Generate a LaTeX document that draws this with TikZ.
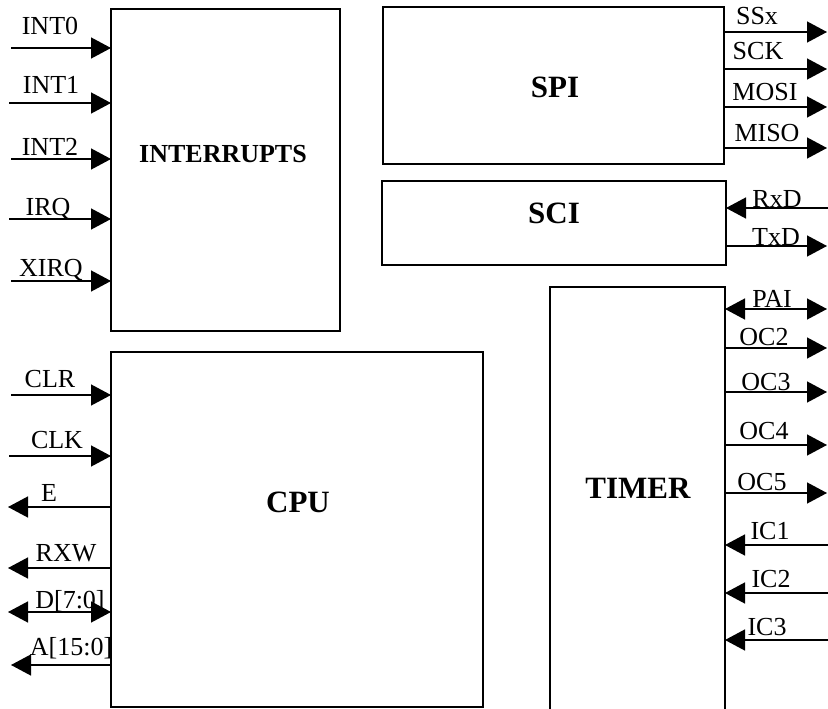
\documentclass[tikz,border=0pt]{standalone}
\usepackage{fontspec}
\setmainfont{Liberation Serif}
\usetikzlibrary{arrows.meta}
\begin{document}
\begin{tikzpicture}[x=1pt,y=-1pt,
  >={Triangle[length=20pt,width=21pt]},
  box/.style={draw, line width=1.4pt, inner sep=0pt, outer sep=0pt},
  sig/.style={line width=1.4pt},
  lbl/.style={font=\fontsize{26}{26}\selectfont, anchor=base, inner sep=0pt},
  ttl/.style={font=\bfseries\fontsize{31}{31}\selectfont, anchor=base, inner sep=0pt}]
\useasboundingbox (0,0) rectangle (828,709);

% blocks
\node[box, minimum width=229pt, minimum height=322pt] (intr) at (225.5,170) {};
\node[box, minimum width=341pt, minimum height=157pt] (spi) at (553.5,85.5) {};
\node[box, minimum width=344pt, minimum height=84pt] (sci) at (554,223) {};
\node[box, minimum width=372pt, minimum height=355pt] (cpu) at (297,529.5) {};
\node[box, minimum width=175pt, minimum height=443pt] (tmr) at (637.5,508.5) {};

% block titles
\node[ttl, font=\bfseries\fontsize{26}{26}\selectfont] (tintr) at (223,162) {INTERRUPTS};
\node[ttl] (tspi) at (555,98) {SPI};
\node[ttl] (tsci) at (554,223) {SCI};
\node[ttl] (tcpu) at (298,512) {CPU};
\node[ttl] (ttmr) at (638,498) {TIMER};

% interrupt inputs
\coordinate (pINT0) at (11,48);
\coordinate (pINT1) at (9,103);
\coordinate (pINT2) at (11,159);
\coordinate (pIRQ) at (9,219);
\coordinate (pXIRQ) at (11,281);
\draw[sig,->] (pINT0) -- (pINT0 -| intr.west);
\draw[sig,->] (pINT1) -- (pINT1 -| intr.west);
\draw[sig,->] (pINT2) -- (pINT2 -| intr.west);
\draw[sig,->] (pIRQ) -- (pIRQ -| intr.west);
\draw[sig,->] (pXIRQ) -- (pXIRQ -| intr.west);
\node[lbl] (lINT0) at (50,35) {INT0};
\node[lbl] (lINT1) at (51,93) {INT1};
\node[lbl] (lINT2) at (50,155) {INT2};
\node[lbl] (lIRQ) at (48,215) {IRQ};
\node[lbl] (lXIRQ) at (51,276) {XIRQ};

% CPU signals
\coordinate (pCLR) at (11,395);
\coordinate (pCLK) at (9,456);
\coordinate (pE) at (8,507);
\coordinate (pRXW) at (8,568);
\coordinate (pD) at (8,612);
\coordinate (pA) at (11,665);
\draw[sig,->] (pCLR) -- (pCLR -| cpu.west);
\draw[sig,->] (pCLK) -- (pCLK -| cpu.west);
\draw[sig,<-] (pE) -- (pE -| cpu.west);
\draw[sig,<-] (pRXW) -- (pRXW -| cpu.west);
\draw[sig,<->] (pD) -- (pD -| cpu.west);
\draw[sig,<-] (pA) -- (pA -| cpu.west);
\node[lbl] (lCLR) at (50,387) {CLR};
\node[lbl] (lCLK) at (57,448) {CLK};
\node[lbl] (lE) at (49,501) {E};
\node[lbl] (lRXW) at (66,561) {RXW};
\node[lbl] (lD) at (70,608) {D[7:0]};
\node[lbl] (lA) at (71,655) {A[15:0]};

% SPI signals
\coordinate (pSSx) at (827,32);
\coordinate (pSCK) at (827,69);
\coordinate (pMOSI) at (827,107);
\coordinate (pMISO) at (827,148);
\draw[sig,->] (pSSx -| spi.east) -- (pSSx);
\draw[sig,->] (pSCK -| spi.east) -- (pSCK);
\draw[sig,->] (pMOSI -| spi.east) -- (pMOSI);
\draw[sig,->] (pMISO -| spi.east) -- (pMISO);
\node[lbl] (lSSx) at (757,25) {SSx};
\node[lbl] (lSCK) at (758,60) {SCK};
\node[lbl] (lMOSI) at (765,100) {MOSI};
\node[lbl] (lMISO) at (767,142) {MISO};

% SCI signals
\coordinate (pRxD) at (828,208);
\coordinate (pTxD) at (827,246);
\draw[sig,<-] (pRxD -| sci.east) -- (pRxD);
\draw[sig,->] (pTxD -| sci.east) -- (pTxD);
\node[lbl] (lRxD) at (777,207) {RxD};
\node[lbl] (lTxD) at (776,245) {TxD};

% TIMER signals
\coordinate (pPAI) at (827,309);
\coordinate (pOC2) at (827,348);
\coordinate (pOC3) at (827,392);
\coordinate (pOC4) at (827,445);
\coordinate (pOC5) at (827,493);
\coordinate (pIC1) at (828,545);
\coordinate (pIC2) at (828,593);
\coordinate (pIC3) at (828,640);
\draw[sig,<->] (pPAI -| tmr.east) -- (pPAI);
\draw[sig,->] (pOC2 -| tmr.east) -- (pOC2);
\draw[sig,->] (pOC3 -| tmr.east) -- (pOC3);
\draw[sig,->] (pOC4 -| tmr.east) -- (pOC4);
\draw[sig,->] (pOC5 -| tmr.east) -- (pOC5);
\draw[sig,<-] (pIC1 -| tmr.east) -- (pIC1);
\draw[sig,<-] (pIC2 -| tmr.east) -- (pIC2);
\draw[sig,<-] (pIC3 -| tmr.east) -- (pIC3);
\node[lbl] (lPAI) at (772,307) {PAI};
\node[lbl] (lOC2) at (764,345) {OC2};
\node[lbl] (lOC3) at (766,390) {OC3};
\node[lbl] (lOC4) at (764,439) {OC4};
\node[lbl] (lOC5) at (762,490) {OC5};
\node[lbl] (lIC1) at (770,539) {IC1};
\node[lbl] (lIC2) at (771,587) {IC2};
\node[lbl] (lIC3) at (767,635) {IC3};
\end{tikzpicture}
\end{document}
